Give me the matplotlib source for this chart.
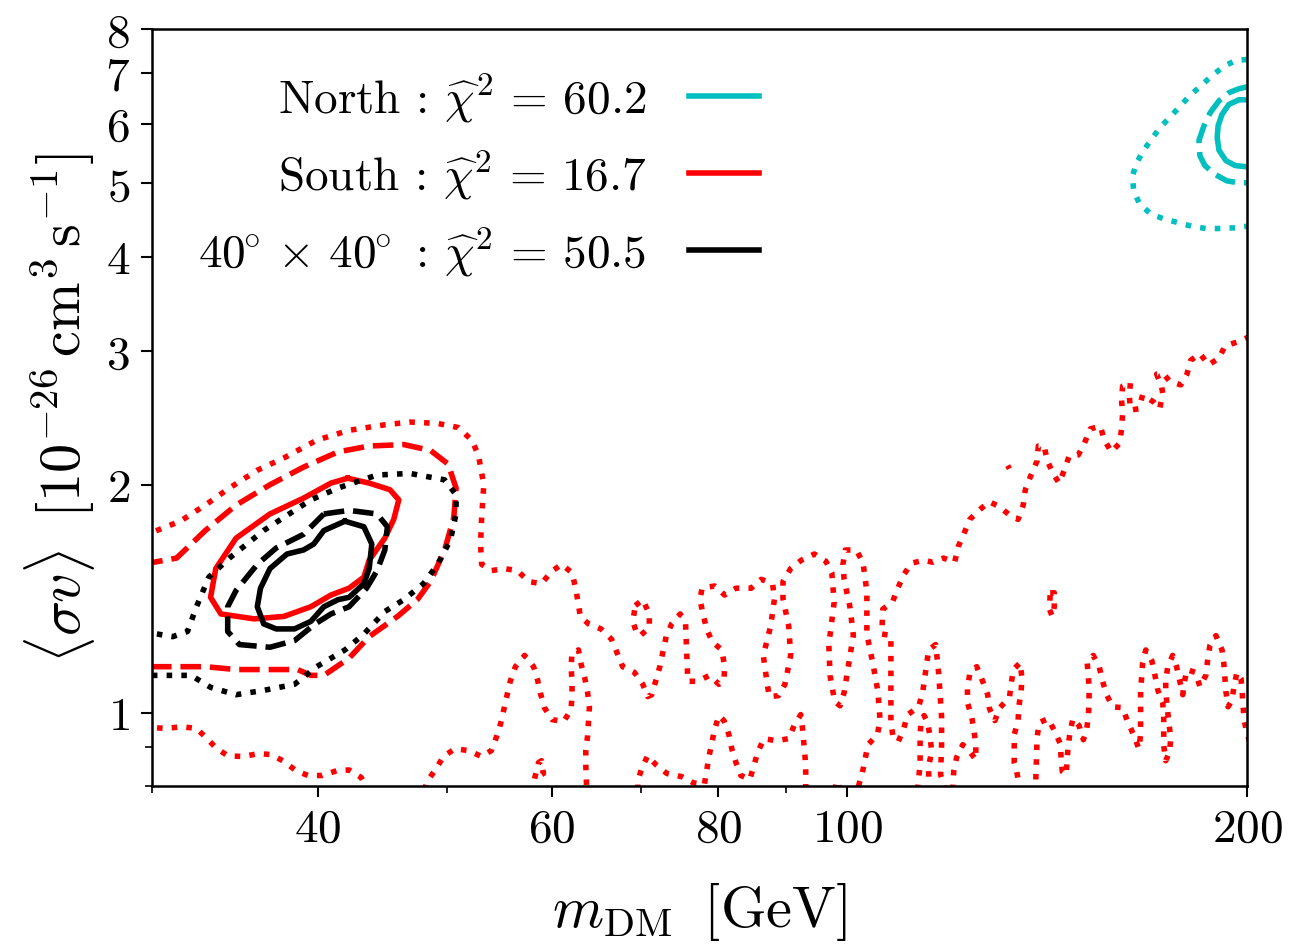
import numpy as np
import matplotlib
matplotlib.use("Agg")
from matplotlib import pyplot as plt
from matplotlib.ticker import FixedLocator, NullFormatter

plt.rcParams['font.family'] = 'serif'
plt.rcParams['font.serif'] = ['cmr10']
plt.rcParams['mathtext.fontset'] = 'cm'
plt.rcParams['axes.unicode_minus'] = False
plt.rcParams['axes.formatter.use_mathtext'] = True

# ---- contour data: m_DM [GeV], <sigma v> [1e-26 cm^3/s] ----
# North
north_1s_x = [200, 197.2, 193.8, 191.5, 190.2, 189.9, 190.5, 192.8, 195.9, 200]
north_1s_y = [6.45, 6.45, 6.36, 6.17, 5.96, 5.75, 5.53, 5.36, 5.28, 5.26]
north_2s_x = [200, 197.2, 193.8, 190.5, 187.6, 185.6, 184.0, 184.3, 185.9, 189.2, 193.1, 197.2, 200]
north_2s_y = [6.71, 6.67, 6.59, 6.43, 6.20, 5.96, 5.70, 5.44, 5.28, 5.14, 5.04, 5.01, 5.01]
north_3s_x = [200, 196.2, 192.1, 188.2, 184.6, 181.1, 178.3, 175.2, 172.2, 169.8, 167.2, 165.2,
              164.0, 164.3, 166.0, 169.2, 173.1, 177.4, 181.7, 186.2, 191.2, 195.9, 200]
north_3s_y = [7.29, 7.27, 7.14, 6.94, 6.73, 6.53, 6.34, 6.13, 5.94, 5.75, 5.53, 5.33,
              5.12, 4.89, 4.70, 4.56, 4.49, 4.44, 4.39, 4.36, 4.36, 4.37, 4.39]

# South
south_1s_x = [42.1, 43.7, 45.3, 46.0, 45.6, 44.9, 43.7, 43.3, 42.2, 40.9, 39.5, 37.7, 35.8,
              33.8, 33.2, 33.5, 34.7, 36.8, 39.0, 40.9, 42.1]
south_1s_y = [2.04, 2.01, 1.97, 1.91, 1.80, 1.70, 1.59, 1.51, 1.46, 1.43, 1.38, 1.34, 1.33,
              1.35, 1.42, 1.55, 1.70, 1.83, 1.92, 2.01, 2.04]
south_2s_x = [29.5, 31.3, 32.9, 34.7, 36.8, 39.0, 41.4, 43.7, 46.4, 48.6, 50.1, 50.8, 50.6, 49.8,
              48.6, 47.5, 45.9, 43.7, 42.2, 40.4, 39.5, 38.6, 36.8, 34.7, 32.9, 31.1, 29.5]
south_2s_y = [1.57, 1.60, 1.74, 1.88, 2.00, 2.11, 2.21, 2.25, 2.26, 2.22, 2.13, 1.98, 1.81, 1.64,
              1.49, 1.41, 1.34, 1.26, 1.18, 1.12, 1.12, 1.14, 1.14, 1.14, 1.15, 1.15, 1.15]

# South 3 sigma, several pieces
south_3s_a_x = [29.5, 31.5, 32.9, 34.3, 36.0, 37.7, 39.9, 42.2, 44.9, 46.9, 49.2, 51.0, 52.2, 52.8,
                53.3, 53.1, 53.0, 53.1, 54.0, 55.2, 56.5, 57.6, 58.9, 59.9, 61.0, 62.1, 62.5, 63.0,
                63.9, 65.3, 66.5, 67.8, 69.2, 70.2, 70.8, 71.3, 72.3, 73.1, 73.8, 74.9, 75.6, 75.9,
                77.2, 78.8, 80.1, 80.8, 80.9, 80.5, 79.2, 78.4, 77.5, 77.8, 79.5, 80.9, 82.5, 84.7,
                86.2, 87.9, 88.2, 87.6, 86.5, 87.1, 87.4, 88.8, 89.8, 90.7, 90.4, 89.5, 89.5, 90.7,
                92.4, 94.5, 96.4, 97.4, 97.8, 96.9, 97.1, 97.9, 98.8, 99.5, 100.3, 101.1, 100.5,
                99.5, 99.3, 99.7, 101.6, 102.8, 103.5, 103.5, 104.6, 105.5, 105.9, 105.4, 103.7,
                102.7, 101.8]
south_3s_a_y = [1.71, 1.79, 1.88, 1.98, 2.09, 2.17, 2.29, 2.36, 2.40, 2.42, 2.41, 2.38, 2.29, 2.19,
                2.00, 1.81, 1.67, 1.57, 1.54, 1.55, 1.54, 1.49, 1.48, 1.535, 1.57, 1.53, 1.46, 1.34,
                1.31, 1.29, 1.25, 1.15, 1.13, 1.09, 1.05, 1.056, 1.15, 1.26, 1.31, 1.35, 1.31, 1.10,
                1.10, 1.12, 1.09, 1.105, 1.15, 1.21, 1.24, 1.29, 1.41, 1.46, 1.47, 1.43, 1.46, 1.46,
                1.50, 1.48, 1.415, 1.30, 1.19, 1.09, 1.05, 1.053, 1.09, 1.19, 1.30, 1.415, 1.49, 1.55,
                1.59, 1.62, 1.585, 1.53, 1.40, 1.23, 1.12, 1.034, 1.021, 1.063, 1.16, 1.265, 1.38,
                1.50, 1.57, 1.64, 1.64, 1.58, 1.445, 1.27, 1.16, 1.066, 0.976, 0.935, 0.907,
                0.833, 0.79]

south_3s_b_x = [201, 196.9, 192.5, 190.5, 187.1, 184.3, 181.4, 180.2, 178.3, 174.9, 173.1, 171.0,
                172.5, 172.8, 171.9, 170.2, 166.9, 165.8, 163.4, 163.1, 163.4, 161.2, 160.9, 161.2,
                160.9, 160.4, 158.1, 156.2, 155.1, 152.4, 150.9, 149.3, 146.9, 145.7, 144.4, 142.9,
                141.5, 140.7, 139.3, 139.0, 137.4, 136.2, 135.7, 134.5, 132.7, 130.3, 127.9, 125.7,
                123.7, 122.4, 121.3, 120.5, 118.2, 116.0, 114.2, 111.8, 110.3, 109.2, 108.2, 106.4,
                106.2, 107.9, 107.9, 108.3, 109.3, 110.3, 111.1, 113.2, 114.0, 114.8, 115.2, 116.6,
                117.2, 117.8, 117.8, 117.6, 118.6]
south_3s_b_y = [3.14, 3.09, 3.05, 2.94, 2.88, 2.98, 2.92, 2.80, 2.71, 2.74, 2.80, 2.80,
                2.69, 2.64, 2.52, 2.57, 2.63, 2.52, 2.51, 2.62, 2.73, 2.70, 2.59, 2.48,
                2.37, 2.27, 2.21, 2.29, 2.39, 2.37, 2.27, 2.19, 2.18, 2.09, 2.01, 2.07,
                2.15, 2.25, 2.25, 2.15, 2.05, 1.97, 1.88, 1.80, 1.82, 1.87, 1.90, 1.85,
                1.80, 1.72, 1.66, 1.58, 1.60, 1.58, 1.59, 1.575, 1.52, 1.46, 1.40, 1.37,
                1.27, 1.265, 0.970, 0.930, 0.916, 0.952, 0.994, 1.018, 1.063, 1.16, 1.21, 1.23,
                1.13, 0.988, 0.905, 0.828, 0.79]

south_3s_c_x = [120.1, 120.3, 120.9, 122.2, 123.7, 125.0, 125.0, 124.6, 124.1, 123.2, 123.2, 123.7,
                125.2, 126.5, 127.6, 128.0, 129.2, 130.3, 132.5, 132.9, 133.4, 135.0, 135.4, 135.2,
                134.7, 134.5, 133.6, 133.6, 134.1, 135.0, 138.6, 138.8, 139.0, 139.5, 141.7, 143.2,
                144.7, 144.9, 145.2, 146.2, 146.4, 146.7, 147.2, 147.9, 149.5, 150.6, 151.4, 151.9,
                152.1, 152.1, 151.9, 151.6, 153.2, 154.8, 155.7, 156.8, 158.4, 161.2, 162.6, 164.3,
                165.8, 166.3, 166.3, 166.9, 167.8, 169.6, 170.5, 171.3, 172.8, 173.1, 173.1, 173.7,
                174.9, 175.2, 174.6, 173.7, 173.7, 174.3, 175.8, 177.0, 178.0, 178.9, 179.3, 180.2,
                182.9, 184.3, 186.2, 186.8, 187.5, 189.5, 191.5, 192.1, 192.8, 193.5, 194.8, 195.5,
                196.5, 197.9, 198.3, 198.6, 199.0, 200, 201]
south_3s_c_y = [0.79, 0.836, 0.872, 0.907, 0.888, 0.867, 0.907, 0.947, 0.988, 1.031, 1.076, 1.126,
                1.15, 1.10, 1.056, 1.012, 0.976, 1.015, 1.047, 1.092, 1.14, 1.164, 1.11, 1.066,
                1.021, 0.976, 0.935, 0.859, 0.840, 0.79, 0.79, 0.851, 0.927, 0.970, 0.982, 0.947,
                0.910, 0.872, 0.836, 0.828, 0.864, 0.905, 0.944, 0.982, 0.961, 0.921, 0.944, 0.988,
                1.031, 1.076, 1.12, 1.164, 1.19, 1.15, 1.10, 1.056, 1.018, 1.015, 0.973, 0.935,
                0.896, 0.935, 1.066, 1.164, 1.21, 1.17, 1.12, 1.072, 1.031, 0.985, 0.905, 0.864,
                0.888, 0.927, 0.973, 1.066, 1.10, 1.15, 1.19, 1.15, 1.10, 1.056, 1.092, 1.14,
                1.13, 1.082, 1.12, 1.175, 1.226, 1.264, 1.21, 1.16, 1.066, 1.018, 1.037, 1.082,
                1.13, 1.11, 1.066, 1.021, 0.976, 0.938, 0.913]

south_3s_d_x = [113.0, 113.5, 113.5, 113.7, 114.3, 115.0, 115.5, 115.8, 115.2, 115.2]
south_3s_d_y = [0.79, 0.856, 0.935, 0.976, 0.991, 0.970, 0.927, 0.888, 0.851, 0.79]

south_3s_e_x = [29.5, 30.7, 31.6, 32.4, 33.0, 33.5, 34.2, 35.1, 36.1, 36.9, 37.7, 38.5, 39.3,
                40.3, 41.3, 42.2, 43.1, 43.6]
south_3s_e_y = [0.958, 0.953, 0.958, 0.953, 0.924, 0.899, 0.877, 0.875, 0.883, 0.880, 0.862, 0.838,
                0.826, 0.826, 0.838, 0.840, 0.821, 0.79]

south_3s_f_x = [48.1, 48.3, 49.0, 49.7, 50.7, 51.9, 53.1, 54.0, 54.5, 54.9, 55.2, 55.5, 55.8, 56.3,
                57.2, 58.1, 58.5, 58.8, 59.2, 60.0, 61.2, 62.0, 62.1, 62.1, 62.0, 62.1, 62.8, 63.1,
                63.5, 63.8, 64.0, 63.9, 63.8, 63.6, 63.6, 63.7]
south_3s_f_y = [0.79, 0.811, 0.840, 0.875, 0.896, 0.891, 0.875, 0.891, 0.930, 0.970, 1.012, 1.056,
                1.10, 1.15, 1.19, 1.15, 1.105, 1.06, 1.015, 0.979, 0.973, 1.009, 1.056, 1.10, 1.15,
                1.20, 1.21, 1.157, 1.109, 1.063, 1.018, 0.973, 0.932, 0.891, 0.854, 0.79]

south_3s_g_x = [69.6, 69.6, 70.1, 70.8, 71.8, 73.2, 75.1, 76.6, 78.1, 78.4, 78.7, 79.1, 79.5, 80.1,
                80.8, 81.5, 81.9, 82.5, 83.2, 84.5, 85.1, 85.7, 86.6, 88.5, 90.4, 91.3, 92.3, 92.6,
                92.8, 93.0, 93.1, 93.1]
south_3s_g_y = [0.79, 0.813, 0.846, 0.877, 0.854, 0.831, 0.823, 0.808, 0.803, 0.836, 0.872, 0.910,
                0.950, 0.991, 0.976, 0.935, 0.896, 0.859, 0.826, 0.816, 0.851, 0.888, 0.924, 0.918,
                0.924, 0.964, 0.994, 0.950, 0.910, 0.872, 0.833, 0.79]

south_3s_h_x = [97.9, 98.3, 98.8]
south_3s_h_y = [0.79, 0.813, 0.79]

# small islands
south_3s_i_x = [69.3, 70.2, 71.0, 71.0, 69.9, 69.5, 69.0, 69.3]
south_3s_i_y = [1.385, 1.41, 1.35, 1.295, 1.264, 1.27, 1.32, 1.385]
south_3s_j_x = [58.2, 58.6, 58.9, 59.1, 58.2]
south_3s_j_y = [0.818, 0.859, 0.864, 0.831, 0.818]
south_3s_k_x = [142.2, 143.2, 143.2, 142.7, 142.0, 142.2]
south_3s_k_y = [1.44, 1.44, 1.38, 1.34, 1.37, 1.44]
south_3s_l_x = [132.1, 132.5]
south_3s_l_y = [2.12, 2.10]

# 40x40
box_1s_x = [41.9, 43.3, 43.9, 43.7, 43.3, 42.2, 41.4, 40.4, 39.5, 38.4, 37.2, 36.4, 36.0, 36.2,
            36.8, 37.9, 39.0, 39.7, 40.4, 41.9]
box_1s_y = [1.79, 1.76, 1.67, 1.55, 1.48, 1.42, 1.41, 1.38, 1.32, 1.29, 1.29, 1.31, 1.38, 1.46,
            1.55, 1.62, 1.64, 1.67, 1.74, 1.79]
box_2s_x = [40.4, 42.2, 44.3, 45.1, 44.9, 44.3, 43.5, 42.2, 40.9, 39.8, 38.4, 36.8, 34.9, 34.2,
            34.2, 34.7, 36.0, 37.2, 39.0, 40.4]
box_2s_y = [1.83, 1.85, 1.83, 1.76, 1.64, 1.54, 1.46, 1.38, 1.35, 1.31, 1.245, 1.22, 1.23, 1.28,
            1.38, 1.45, 1.57, 1.65, 1.72, 1.83]
box_3s_x = [29.5, 31.1, 31.9, 32.4, 33.1, 34.3, 36.4, 39.5, 41.4, 44.3, 46.9, 49.8, 50.8, 50.8,
            50.3, 49.2, 48.0, 46.4, 44.9, 43.3, 41.9, 39.9, 38.4, 36.4, 34.7, 33.2, 32.1, 31.1, 29.5]
box_3s_y = [1.28, 1.26, 1.28, 1.38, 1.51, 1.60, 1.74, 1.91, 1.98, 2.06, 2.07, 2.03, 1.94, 1.83,
            1.69, 1.57, 1.48, 1.41, 1.36, 1.27, 1.21, 1.15, 1.09, 1.07, 1.056, 1.08, 1.12, 1.12, 1.12]

labels = [r'North : $\widehat{\chi}^2 \,=\, 60.2$',
          r'South : $\widehat{\chi}^2 \,=\, 16.7$',
          r'$40^{\!\!\circ} \times\, 40^{\!\!\circ}$ : $\widehat{\chi}^2 \,=\, 50.5$']
colors = ['c', 'r', 'k']

x_major = [40, 60, 80, 100, 200]
x_minor = [30, 50, 70, 90]
y_major = [1, 2, 3, 4, 5, 6, 7, 8]
y_minor = [0.8, 0.9]

fig = plt.figure(figsize=(13.03, 9.45), dpi=100)
ax = fig.add_axes([0.1167, 0.1672, 0.8404, 0.8011])
lw = 4.0

south_dotted = [(south_3s_a_x, south_3s_a_y), (south_3s_b_x, south_3s_b_y), (south_3s_c_x, south_3s_c_y),
                (south_3s_d_x, south_3s_d_y), (south_3s_e_x, south_3s_e_y), (south_3s_f_x, south_3s_f_y),
                (south_3s_g_x, south_3s_g_y), (south_3s_h_x, south_3s_h_y), (south_3s_i_x, south_3s_i_y),
                (south_3s_j_x, south_3s_j_y), (south_3s_k_x, south_3s_k_y), (south_3s_l_x, south_3s_l_y)]
for xs, ys in south_dotted:
    ax.plot(xs, ys, color='r', ls=':', lw=lw)
ax.plot(south_2s_x, south_2s_y, color='r', ls='--', lw=lw)
ax.plot(south_1s_x, south_1s_y, color='r', ls='-', lw=lw)

ax.plot(box_3s_x, box_3s_y, color='k', ls=':', lw=lw)
ax.plot(box_2s_x, box_2s_y, color='k', ls='--', lw=lw)
ax.plot(box_1s_x, box_1s_y, color='k', ls='-', lw=lw)

ax.plot(north_3s_x, north_3s_y, color='c', ls=':', lw=lw)
ax.plot(north_2s_x, north_2s_y, color='c', ls='--', lw=lw)
ax.plot(north_1s_x, north_1s_y, color='c', ls='-', lw=lw)

ax.set_xscale('log')
ax.set_yscale('log')
ax.set_xlim(30, 200)
ax.set_ylim(0.8, 8)

ax.xaxis.set_major_locator(FixedLocator(x_major))
ax.xaxis.set_minor_locator(FixedLocator(x_minor))
ax.set_xticklabels([r'$%d$' % v for v in x_major])
ax.xaxis.set_minor_formatter(NullFormatter())
ax.yaxis.set_major_locator(FixedLocator(y_major))
ax.yaxis.set_minor_locator(FixedLocator(y_minor))
ax.set_yticklabels([r'$%d$' % v for v in y_major])
ax.yaxis.set_minor_formatter(NullFormatter())

ax.tick_params(which='major', length=8, width=1.5, labelsize=34, pad=8)
ax.tick_params(which='minor', length=5, width=1.2)
for s in ax.spines.values():
    s.set_linewidth(1.8)

ax.set_xlabel(r'$m_{\mathrm{DM}}\;\;[\mathrm{GeV}]$', fontsize=42, labelpad=22)
ax.set_ylabel(r'$\langle\sigma v\rangle\;\;[10^{-26}\,\mathrm{cm}^3\,\mathrm{s}^{-1}]$', fontsize=42, labelpad=6)

handles = [plt.Line2D([], [], color=c, lw=lw) for c in colors]
ax.legend(handles, labels, loc='upper left', bbox_to_anchor=(0.042, 0.945), frameon=False,
          markerfirst=False, fontsize=34, handlelength=1.5, handletextpad=0.9,
          labelspacing=0.5, borderpad=0, borderaxespad=0)

fig.savefig('out.png', dpi=100)
